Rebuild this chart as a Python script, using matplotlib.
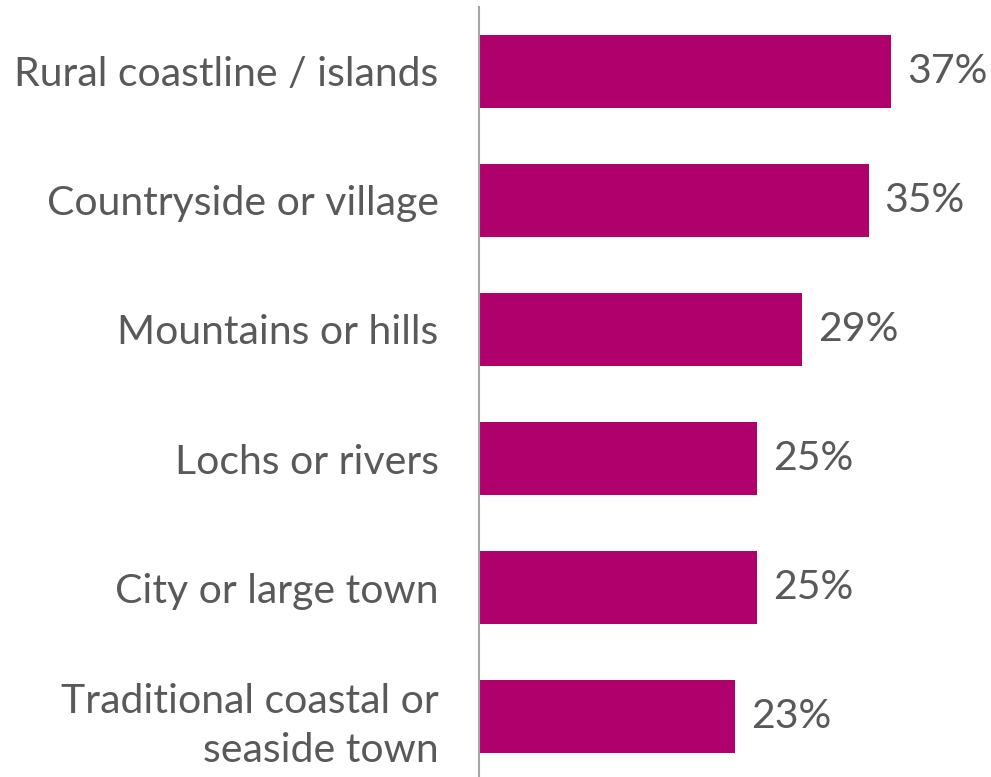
import matplotlib
matplotlib.use("Agg")
import matplotlib.pyplot as plt

BAR = "#b0006b"
TEXT = "#595959"
AXIS = "#a6a6a6"

categories = [
    "Rural coastline / islands",
    "Countryside or village",
    "Mountains or hills",
    "Lochs or rivers",
    "City or large town",
    "Traditional coastal or\nseaside town",
]
shares = [37, 35, 29, 25, 25, 23]

plt.rcParams.update({
    "font.family": ["Lato", "DejaVu Sans"],
    "font.size": 29.5,
    "text.color": TEXT,
})

fig = plt.figure(figsize=(9.91, 7.77), dpi=100)
ax = fig.add_axes([479 / 991, -4 / 777, 512 / 991, 774 / 777])

y = list(range(len(categories)))
ax.barh(y, shares, height=0.56, color=BAR, zorder=2)
ax.set_ylim(len(categories) - 0.5, -0.5)
ax.set_xlim(0, 46)

for yi, v in zip(y, shares):
    ax.text(v + 1.45, yi, "{}%".format(v), va="center", ha="left",
            fontsize=29.5, color=TEXT)

ax.set_yticks(y)
ax.set_yticklabels(categories, fontsize=29.5, color=TEXT, linespacing=1.4)
ax.tick_params(axis="y", length=0, pad=29)
ax.set_xticks([])
for s in ("top", "right", "bottom"):
    ax.spines[s].set_visible(False)
ax.spines["left"].set_color(AXIS)
ax.spines["left"].set_linewidth(1.5)

fig.savefig("out.png", dpi=100, facecolor="white")
